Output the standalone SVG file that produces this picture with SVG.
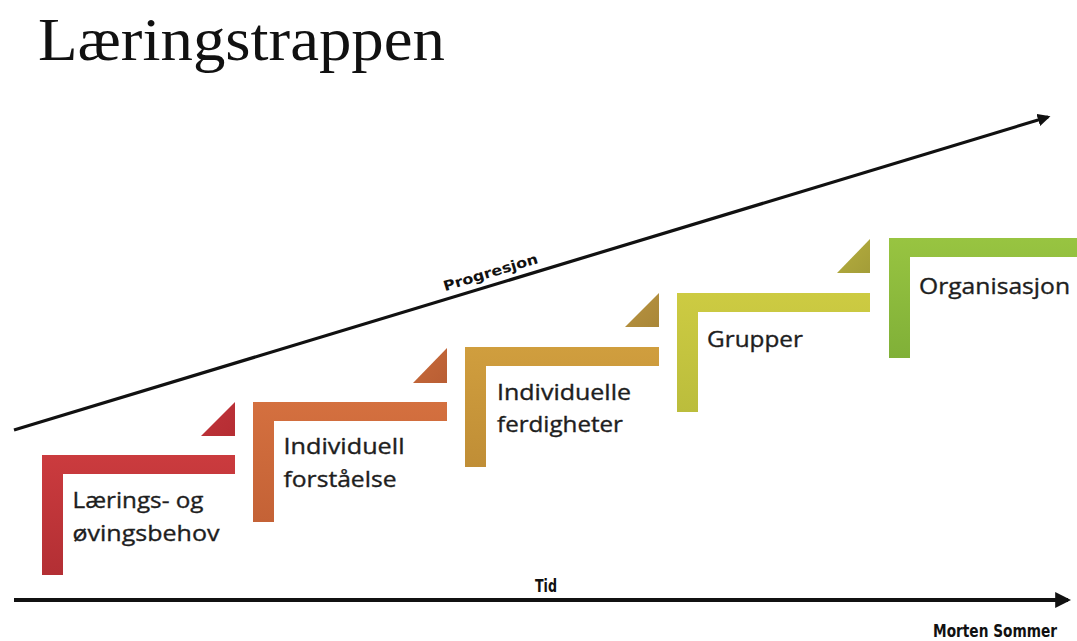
<svg xmlns="http://www.w3.org/2000/svg" width="1077" height="641" viewBox="0 0 1077 641">
  <defs>
    <style>
      .title { font-family: "Liberation Serif", "Times New Roman", serif; font-size: 62px; fill: #111; }
      .lbl { font-family: "Open Sans", "Liberation Sans", sans-serif; font-size: 21px; fill: #1e1e1e; stroke: #1e1e1e; stroke-width: 0.35px; }
      .axis { font-family: "DejaVu Sans Condensed", "DejaVu Sans", sans-serif; font-weight: bold; fill: #111; }
      .conn { stroke: #111; fill: none; }
    </style>
    <linearGradient id="gRed" x1="0" y1="0" x2="0" y2="1">
      <stop offset="0" stop-color="#cb3b3e"/><stop offset="1" stop-color="#b32f34"/>
    </linearGradient>
    <linearGradient id="gOrange" x1="0" y1="0" x2="0" y2="1">
      <stop offset="0" stop-color="#d4703f"/><stop offset="1" stop-color="#c46236"/>
    </linearGradient>
    <linearGradient id="gGold" x1="0" y1="0" x2="0" y2="1">
      <stop offset="0" stop-color="#d09e3e"/><stop offset="1" stop-color="#c08e36"/>
    </linearGradient>
    <linearGradient id="gYellow" x1="0" y1="0" x2="0" y2="1">
      <stop offset="0" stop-color="#cdcb42"/><stop offset="1" stop-color="#bbbd3c"/>
    </linearGradient>
    <linearGradient id="gGreen" x1="0" y1="0" x2="0" y2="1">
      <stop offset="0" stop-color="#98c441"/><stop offset="1" stop-color="#80b038"/>
    </linearGradient>
    <linearGradient id="tRed" x1="0" y1="0" x2="1" y2="1">
      <stop offset="0" stop-color="#c0343a"/><stop offset="1" stop-color="#b52d33"/>
    </linearGradient>
    <linearGradient id="tOrange" x1="0" y1="0" x2="1" y2="1">
      <stop offset="0" stop-color="#c86a3a"/><stop offset="1" stop-color="#b95e34"/>
    </linearGradient>
    <linearGradient id="tGold" x1="0" y1="0" x2="1" y2="1">
      <stop offset="0" stop-color="#b99340"/><stop offset="1" stop-color="#a98738"/>
    </linearGradient>
    <linearGradient id="tYellow" x1="0" y1="0" x2="1" y2="1">
      <stop offset="0" stop-color="#b6ae3e"/><stop offset="1" stop-color="#a39d38"/>
    </linearGradient>
    <marker id="arrow" viewBox="0 0 10 10" refX="8" refY="5" markerWidth="4" markerHeight="4" orient="auto" markerUnits="strokeWidth">
      <path d="M0,0 L10,5 L0,10 Z" fill="#111"/>
    </marker>
  </defs>

  <rect width="1077" height="641" fill="#ffffff"/>

  <text class="title" x="38" y="60" textLength="407" lengthAdjust="spacingAndGlyphs">Læringstrappen</text>

  <!-- axes: progression (diagonal) and time (horizontal) -->
  <g id="connectors">
    <line class="conn" x1="14" y1="430" x2="1048" y2="117" stroke-width="3.2" marker-end="url(#arrow)"/>
    <line class="conn" x1="14" y1="600" x2="1068" y2="600" stroke-width="4" marker-end="url(#arrow)"/>
    <text class="axis" transform="translate(492 277) rotate(-16.8)" text-anchor="middle" style="font-size:14px" textLength="98" lengthAdjust="spacingAndGlyphs">Progresjon</text>
    <text class="axis" x="546" y="592" text-anchor="middle" style="font-size:17px" textLength="22" lengthAdjust="spacingAndGlyphs">Tid</text>
    <text class="axis" x="995" y="637" text-anchor="middle" style="font-size:17px" textLength="124" lengthAdjust="spacingAndGlyphs">Morten Sommer</text>
  </g>

  <!-- step 1 -->
  <g id="step1">
    <path d="M42,455 H235 V474 H63 V575 H42 Z" fill="url(#gRed)"/>
    <path d="M201,436 H235 V402 Z" fill="url(#tRed)"/>
    <text class="lbl" x="72.5" y="508" textLength="131" lengthAdjust="spacingAndGlyphs">Lærings- og</text>
    <text class="lbl" x="72.5" y="541" textLength="147" lengthAdjust="spacingAndGlyphs">øvingsbehov</text>
  </g>

  <!-- step 2 -->
  <g id="step2">
    <path d="M253,402 H447 V421 H274 V522 H253 Z" fill="url(#gOrange)"/>
    <path d="M413,383 H447 V348 Z" fill="url(#tOrange)"/>
    <text class="lbl" x="283.5" y="454" textLength="121" lengthAdjust="spacingAndGlyphs">Individuell</text>
    <text class="lbl" x="283.5" y="487" textLength="113" lengthAdjust="spacingAndGlyphs">forståelse</text>
  </g>

  <!-- step 3 -->
  <g id="step3">
    <path d="M465,347 H659 V366 H486 V467 H465 Z" fill="url(#gGold)"/>
    <path d="M625,327 H659 V293 Z" fill="url(#tGold)"/>
    <text class="lbl" x="497" y="400" textLength="134" lengthAdjust="spacingAndGlyphs">Individuelle</text>
    <text class="lbl" x="497" y="432" textLength="126" lengthAdjust="spacingAndGlyphs">ferdigheter</text>
  </g>

  <!-- step 4 -->
  <g id="step4">
    <path d="M677,293 H870 V312 H698 V412 H677 Z" fill="url(#gYellow)"/>
    <path d="M837,273 H870 V239 Z" fill="url(#tYellow)"/>
    <text class="lbl" x="707" y="347" textLength="96" lengthAdjust="spacingAndGlyphs">Grupper</text>
  </g>

  <!-- step 5 -->
  <g id="step5">
    <path d="M889,238 H1077 V257 H910 V358 H889 Z" fill="url(#gGreen)"/>
    <text class="lbl" x="919" y="294" textLength="151" lengthAdjust="spacingAndGlyphs">Organisasjon</text>
  </g>
</svg>
